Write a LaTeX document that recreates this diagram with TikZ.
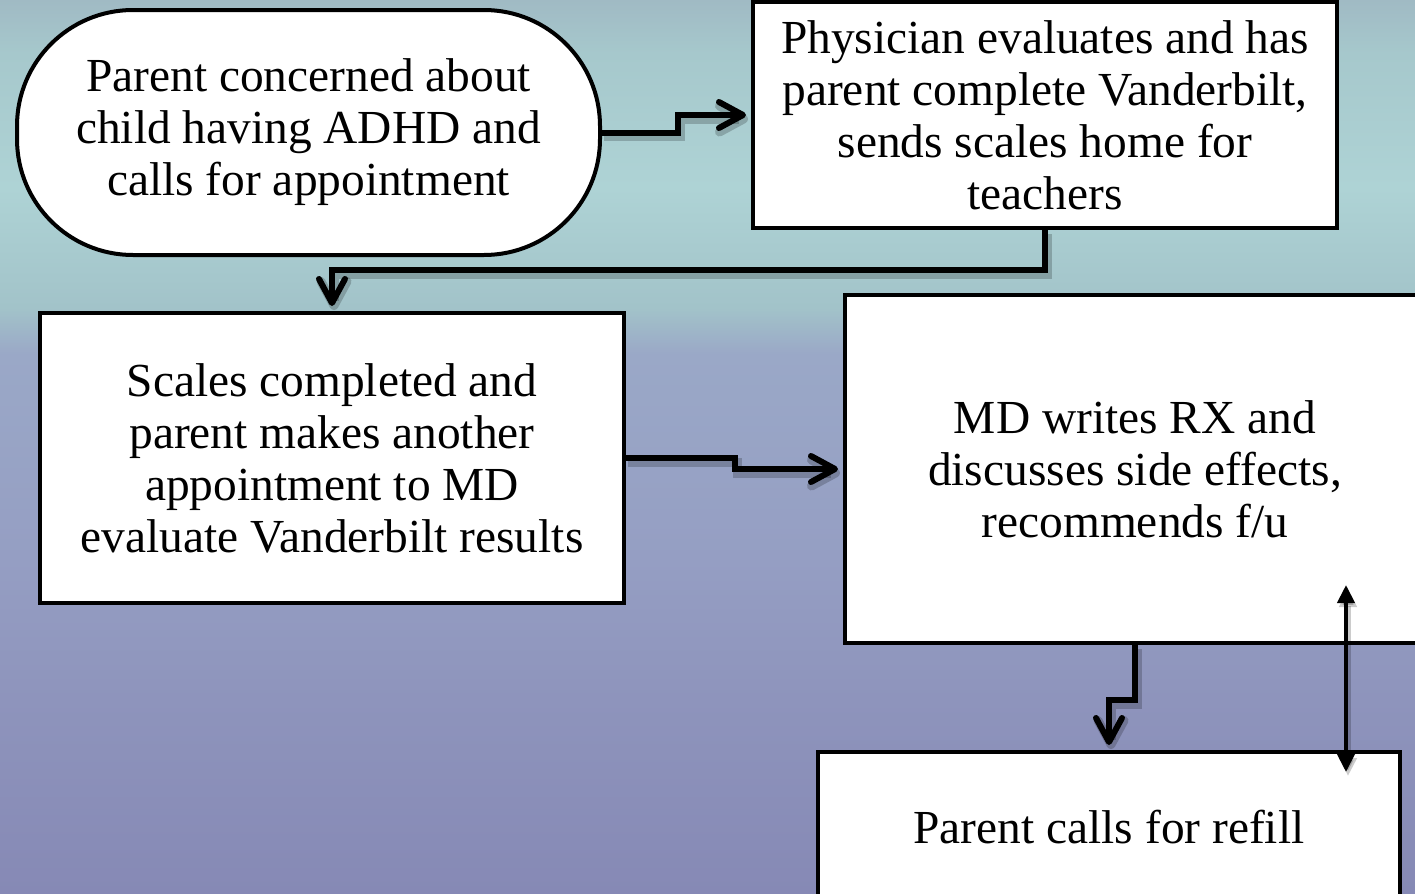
\documentclass[tikz,border=0pt]{standalone}
\usepackage{fontspec}
\setmainfont{Liberation Serif}
\usetikzlibrary{arrows.meta,calc}
\definecolor{cb}{HTML}{8689B5}
\definecolor{cseven}{HTML}{8E94BC}
\definecolor{cfive}{HTML}{959EC3}
\definecolor{cthree}{HTML}{9AA8C7}
\definecolor{ctt}{HTML}{A2C3C9}
\definecolor{ctwo}{HTML}{AED3D5}
\definecolor{csix}{HTML}{A6C8CC}
\definecolor{czero}{HTML}{A0BAC4}
\pgfdeclareverticalshading{sea}{100bp}{color(0bp)=(cb); color(25bp)=(cb); color(35.9bp)=(cseven); color(43.7bp)=(cfive); color(55.2bp)=(cthree); color(57.8bp)=(ctt); color(64.5bp)=(ctwo); color(72bp)=(csix); color(75bp)=(czero); color(100bp)=(czero)}
\tikzset{
  box/.style={draw=black, line width=2pt, fill=white, align=center, inner sep=0pt,
    font=\fontsize{23.7pt}{26pt}\selectfont},
  conn/.style={line width=3pt, line join=miter,
    -{Straight Barb[length=12pt,width=13pt,line cap=round,line join=round]}, shorten >=2.5pt,
    preaction={draw=black, opacity=0.2, line width=4.5pt, transform canvas={shift={(1pt,-2pt)}}}},
  dbl/.style={line width=2pt, {Triangle[length=9pt,width=8.5pt]}-{Triangle[length=9pt,width=8.5pt]},
    preaction={draw=black, opacity=0.2, line width=3pt, transform canvas={shift={(1pt,-2pt)}}}}
}
\begin{document}
\begin{tikzpicture}[x=0.5pt,y=-0.5pt]
\useasboundingbox (0,0) rectangle (1415,894);
\clip (0,0) rectangle (1415,894);
\shade[shading=sea] (0,0) rectangle (1415,894);

\node[box, rounded corners=58pt, minimum width=291.5pt, minimum height=122.5pt] (n1) at (308.5,132.5)
  {Parent concerned about\\child having ADHD and\\calls for appointment};
\node[box, minimum width=292pt, minimum height=113pt] (n2) at (1045,115)
  {Physician evaluates and has\\parent complete Vanderbilt,\\sends scales home for\\teachers};
\node[box, minimum width=292pt, minimum height=145pt] (n3) at (332,458)
  {Scales completed and\\parent makes another\\appointment to MD\\evaluate Vanderbilt results};
\node[box, minimum width=290pt, minimum height=174pt] (n4) at (1135,469)
  {MD writes RX and\\discusses side effects,\\recommends f/u};
\node[box, minimum width=291pt, minimum height=75pt] (n5) at (1109,827)
  {Parent calls for refill};

\draw[conn] (n1.east) -- ++(76,0) |- (n2.west);
\draw[conn] (n2.south) -- ++(0,40) -| (n3.north);
\draw[conn] (n3.east) -- ++(109,0) |- (n4.west);
\draw[conn] (n4.south) -- ++(0,55) -| (n5.north);
\coordinate (up) at (1346,585);
\coordinate (dn) at (1346,772);
\draw[dbl] (dn) -- (up);
\end{tikzpicture}
\end{document}
